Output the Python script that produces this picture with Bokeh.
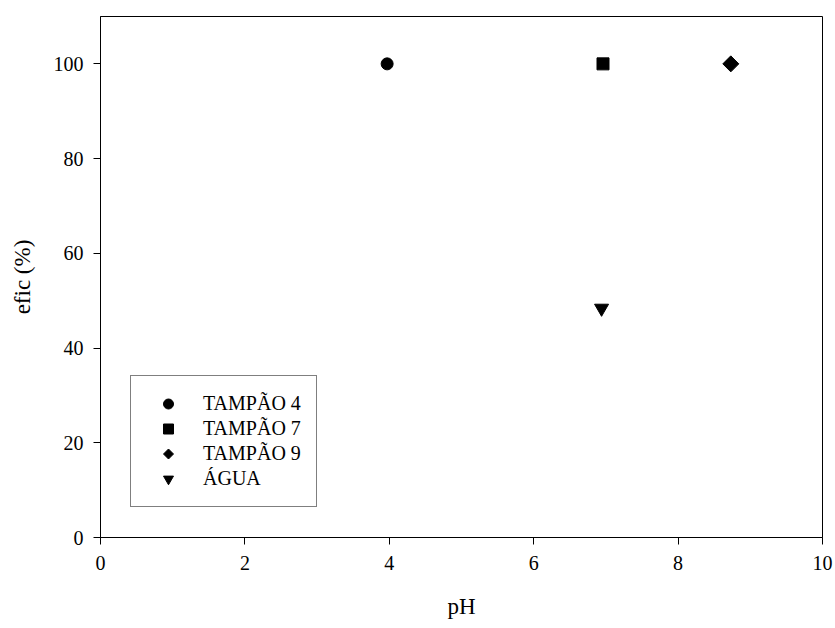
import math
from bokeh.plotting import figure
from bokeh.models import Range1d, FixedTicker, Legend, LegendItem, ColumnDataSource
from bokeh.embed import file_html
from bokeh.resources import INLINE

# Data
series = ["TAMPÃO 4", "TAMPÃO 7", "TAMPÃO 9", "ÁGUA"]
ph = [3.97, 6.96, 8.73, 6.94]
efic = [100.0, 100.0, 100.0, 48.4]
x_ticks = [0, 2, 4, 6, 8, 10]
y_ticks = [0, 20, 40, 60, 80, 100]

FONT = "Liberation Serif"

p = figure(width=835, height=628, output_backend="svg", toolbar_location=None,
           x_range=Range1d(0, 10), y_range=Range1d(0, 110),
           min_border_left=100, min_border_right=13, min_border_top=16, min_border_bottom=91)
p.grid.visible = False
p.outline_line_color = "black"
p.outline_line_width = 1
p.background_fill_color = "white"
p.border_fill_color = "white"

for ax in (p.xaxis[0], p.yaxis[0]):
    ax.axis_line_color = "black"
    ax.major_tick_line_color = "black"
    ax.major_tick_in = 0
    ax.major_tick_out = 7
    ax.minor_tick_line_color = None
    ax.major_label_text_font = FONT
    ax.major_label_text_font_size = "20px"
    ax.major_label_text_color = "black"
    ax.axis_label_text_font = FONT
    ax.axis_label_text_font_size = "23px"
    ax.axis_label_text_font_style = "normal"
    ax.axis_label_text_color = "black"

p.xaxis.ticker = FixedTicker(ticks=x_ticks)
p.yaxis.ticker = FixedTicker(ticks=y_ticks)
p.xaxis.axis_label = "pH"
p.yaxis.axis_label = "efic (%)"
p.xaxis.major_label_standoff = 11
p.yaxis.major_label_standoff = 10
p.xaxis.axis_label_standoff = 21
p.yaxis.axis_label_standoff = 16

markers = ["circle", "square", "diamond", "inverted_triangle"]
sizes = [12, 12, 16, 14]

items = []
for i in range(len(series)):
    src = ColumnDataSource(dict(x=[ph[i]], y=[efic[i]]))
    if markers[i] == "diamond":
        try:
            from bokeh.models import Ngon
            g = Ngon(x="x", y="y", radius=sizes[i] / 2, radius_units="screen", n=4,
                     fill_color="black", line_color="black")
            r = p.add_glyph(src, g)
        except Exception:
            r = p.scatter("x", "y", source=src, marker="diamond", size=sizes[i],
                          fill_color="black", line_color="black")
    else:
        r = p.scatter("x", "y", source=src, marker=markers[i], size=sizes[i],
                      fill_color="black", line_color="black")
    items.append(LegendItem(label=series[i], renderers=[r]))

legend = Legend(items=items, location=(30, 30))
legend.label_text_font = FONT
legend.label_text_font_size = "20px"
legend.label_text_color = "black"
legend.glyph_height = 25
legend.glyph_width = 44
legend.label_height = 20
legend.spacing = 0
legend.padding = 15
legend.margin = 0
legend.label_standoff = 13
legend.border_line_color = "black"
legend.border_line_width = 1
legend.background_fill_color = "white"
legend.background_fill_alpha = 1
p.add_layout(legend, "center")

open("out.html", "w").write(file_html(p, INLINE))
